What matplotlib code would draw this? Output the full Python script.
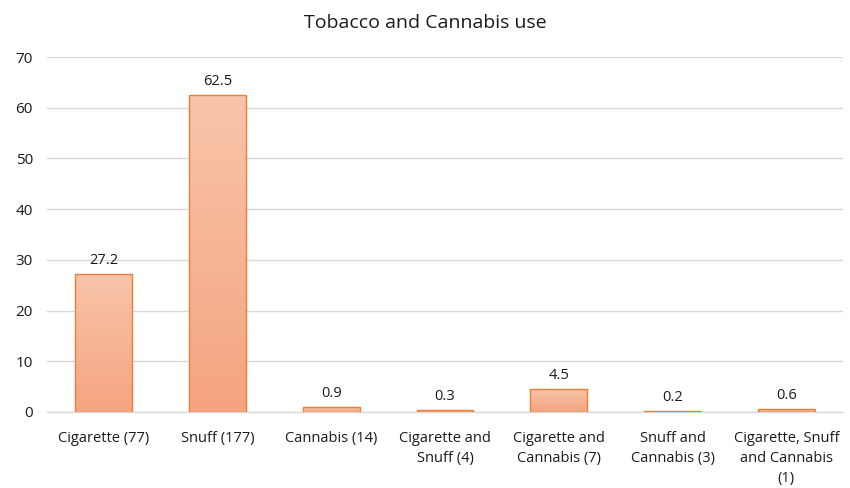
import numpy as np
import matplotlib.pyplot as plt
from matplotlib.colors import LinearSegmentedColormap

plt.rcParams['font.family'] = ['Open Sans', 'DejaVu Sans']

categories = ["Cigarette (77)", "Snuff (177)", "Cannabis (14)", "Cigarette and\nSnuff (4)",
              "Cigarette and\nCannabis (7)", "Snuff and\nCannabis (3)", "Cigarette, Snuff\nand Cannabis\n(1)"]
values = [27.2, 62.5, 0.9, 0.3, 4.5, 0.2, 0.6]
labels = ["27.2", "62.5", "0.9", "0.3", "4.5", "0.2", "0.6"]

fig = plt.figure(figsize=(8.5, 4.88), dpi=100)
ax = fig.add_axes([0.055, 0.156, 0.937, 0.727])

x = np.arange(len(categories))
bars = ax.bar(x, values, width=0.5, facecolor='none', edgecolor='#ed7d31', linewidth=1.0, zorder=3)

# vertical gradient inside each bar, light at top
cmap = LinearSegmentedColormap.from_list('g', ['#f5a47f', '#f8c4aa'])
grad = np.linspace(0, 1, 256).reshape(-1, 1)
for b in bars:
    x0, w, h = b.get_x(), b.get_width(), b.get_height()
    im = ax.imshow(grad, cmap=cmap, origin='lower', aspect='auto',
                   extent=(x0, x0 + w, 0, h), zorder=2)
    im.set_clip_path(b)

for xi, v, t in zip(x, values, labels):
    ax.text(xi, v + 1.2, t, ha='center', va='bottom', fontsize=10.5, color='#1a1a1a')

ax.set_xlim(-0.5, len(categories) - 0.5)
ax.set_ylim(0, 70)
ax.set_yticks(range(0, 71, 10))
ax.set_xticks(x)
ax.set_xticklabels(categories, fontsize=10.5, color='#1a1a1a', linespacing=1.45)
ax.tick_params(axis='y', labelsize=11, colors='#1a1a1a', length=0, pad=10)
ax.tick_params(axis='x', length=0, pad=14)
ax.grid(axis='y', color='#d9d9d9', linewidth=1.0, zorder=0)
ax.set_axisbelow(True)
for s in ['top', 'right', 'left']:
    ax.spines[s].set_visible(False)
ax.spines['bottom'].set_color('#d9d9d9')
ax.spines['bottom'].set_linewidth(1.0)

fig.text(0.5, 0.952, "Tobacco and Cannabis use", ha='center', va='center', fontsize=14, color='#1a1a1a')

fig.savefig('out.png', dpi=100)
